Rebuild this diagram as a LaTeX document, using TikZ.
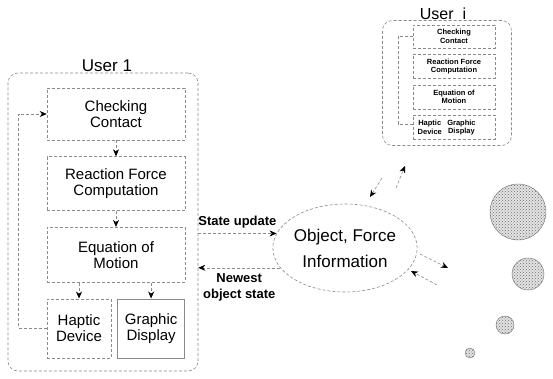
\documentclass[tikz,border=0pt]{standalone}
\usepackage{fontspec}
\setmainfont{Liberation Sans}
\usepackage{tikz}
\usetikzlibrary{arrows.meta, positioning, shapes.geometric, calc, fit, patterns}
\definecolor{LineGray}{HTML}{8A8A8A}
\definecolor{DotGray}{HTML}{6E6E6E}

\begin{document}
\begin{tikzpicture}[
    x=1pt, y=-1pt,
    frame/.style={
      draw=LineGray, densely dashed, rounded corners=10pt, line width=0.6pt
    },
    block/.style={
      draw=LineGray, densely dashed, line width=0.6pt, align=center, inner sep=1pt,
      minimum width=138pt, minimum height=54pt, font=\fontsize{15}{16}\selectfont
    },
    small/.style={
      draw=LineGray, densely dashed, line width=0.5pt, align=center, inner sep=1pt,
      minimum width=82pt, minimum height=24pt, font=\bfseries\fontsize{7.5}{8.5}\selectfont
    },
    title/.style={font=\fontsize{17}{20}\selectfont, inner sep=1pt},
    arr/.style={draw=LineGray, densely dashed, line width=0.6pt,
      -{Stealth[length=7pt, width=6pt, color=black]}},
    bubble/.style={circle, draw=DotGray, preaction={fill=gray!22},
      pattern=crosshatch dots, pattern color=DotGray, inner sep=0pt}
  ]
    \useasboundingbox (0,0) rectangle (553,379);

    \node[frame, minimum width=190pt, minimum height=298pt] (user1) at (103,222) {};
    \node[title, above=0pt of user1, xshift=4pt] (u1title) {User 1};

    \node[block, minimum height=52pt] (check) at (116,114) {Checking\\Contact};
    \node[block, below=16pt of check] (react) {Reaction Force\\Computation};
    \node[block, minimum height=55pt, below=16pt of react] (eqn) {Equation of\\Motion};
    \node[block, minimum width=64pt, minimum height=59pt, anchor=north west]
      (haptic) at ($(eqn.south west)+(0,16)$) {Haptic\\Device};
    \node[block, solid, minimum width=67pt, minimum height=59pt, right=6pt of haptic]
      (graphic) {Graphic\\Display};

    \draw[arr] (check) -- (react);
    \draw[arr] (react) -- (eqn);
    \draw[arr] (eqn.south -| haptic) -- (haptic);
    \draw[arr] (eqn.south -| graphic) -- (graphic);
    \draw[arr] (haptic.west) -- ++(-28,0) |- (check.west);

    \node[ellipse, draw=LineGray, densely dashed, line width=0.6pt, minimum width=126pt,
      minimum height=88pt, inner sep=0pt, align=center, font=\fontsize{17}{26}\selectfont]
      (obj) at (345,248) {Object, Force\\Information};

    \draw[arr] (user1.east |- obj.168) -- (obj.168)
      node[midway, above=2pt, font=\bfseries\fontsize{13}{15}\selectfont, black] (stup) {State update};
    \draw[arr] (obj.197) -- (user1.east |- obj.197)
      node[midway, below=2pt, align=center, font=\bfseries\fontsize{13}{16}\selectfont, black]
      (newest) {Newest\\object state};

    \node[frame, minimum width=129pt, minimum height=125pt] (useri) at (447,83) {};
    \node[title, above=-1pt of useri, xshift=-4pt, font=\fontsize{16}{19}\selectfont] (uititle) {User~~i};

    \node[small, minimum height=23pt] (ci) at (454,36.5) {Checking\\Contact};
    \node[small, below=6pt of ci] (ri) {Reaction Force\\Computation};
    \node[small, below=6pt of ri] (ei) {Equation of\\Motion};
    \node[small, below=6pt of ei] (bi) {};
    \node[font=\bfseries\fontsize{7.5}{8.5}\selectfont, align=center, inner sep=0pt]
      (hi) at ($(bi.west)+(17,0)$) {Haptic\\Device};
    \node[font=\bfseries\fontsize{7.5}{8.5}\selectfont, align=center, inner sep=0pt,
      right=5pt of hi] (gi) {Graphic\\Display};
    \draw[draw=LineGray, densely dashed, line width=0.5pt]
      ([yshift=3pt]bi.west) -- ++(-15,0) |- (ci.west);

    \coordinate (upA) at (396,188);
    \coordinate (upB) at (405,166);
    \coordinate (dnA) at (382,178);
    \coordinate (dnB) at (370,197);
    \coordinate (outA) at (420,254);
    \coordinate (outB) at (448,268);
    \coordinate (inA) at (437,285);
    \coordinate (inB) at (411,271);
    \draw[arr] (upA) -- (upB);
    \draw[arr] (dnA) -- (dnB);
    \draw[arr] (outA) -- (outB);
    \draw[arr] (inA) -- (inB);

    \foreach \name/\pos/\size in {bub1/{(518,212)}/56pt, bub2/{(528,274)}/32pt,
      bub3/{(505,325)}/18pt, bub4/{(470,353)}/10pt}
      \node[bubble, minimum size=\size] (\name) at \pos {};
  \end{tikzpicture}
\end{document}
